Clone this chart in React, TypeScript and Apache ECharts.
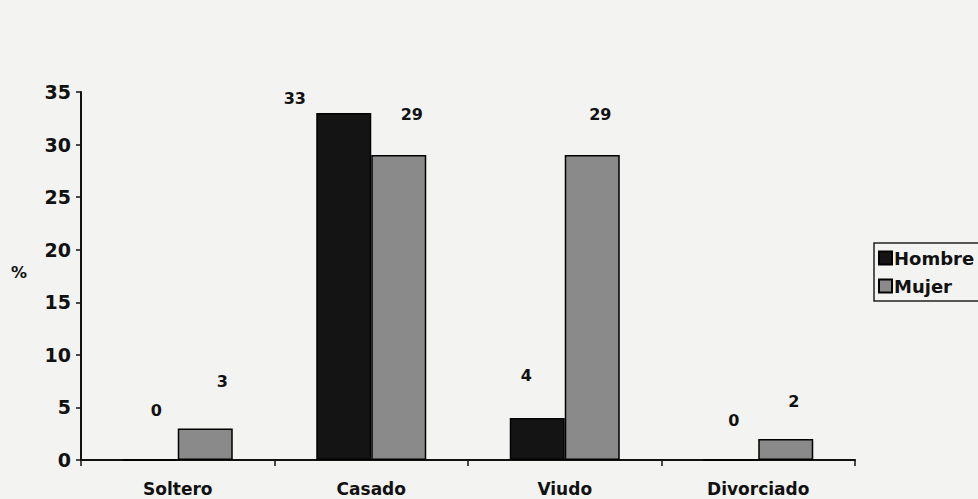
import React, { useEffect, useRef } from "react";
import * as echarts from "echarts";

const categories = ["Soltero", "Casado", "Viudo", "Divorciado"];
const hombre = [0, 33, 4, 0];
const mujer = [3, 29, 29, 2];
const yTicks = { min: 0, max: 35, interval: 5 };

// label placement tweaks (style only)
const hombreLabelOffsets = [[6, -36], [-49, -2], [-11, -29], [3, -26]];
const mujerLabelOffsets = [[17, -34], [13, -28], [8, -28], [8, -24]];

const FONT = "'DejaVu Sans', Verdana, sans-serif";

export default function App() {
  const ref = useRef<HTMLDivElement>(null);
  useEffect(() => {
    if (!ref.current) return;
    const chart = echarts.init(ref.current, undefined, { renderer: "svg" });
    const labelBase = {
      show: true,
      position: "top",
      distance: 5,
      fontFamily: FONT,
      fontWeight: "bold",
      fontSize: 16,
      color: "#111",
    };
    chart.setOption({
      animation: false,
      backgroundColor: "#f3f3f1",
      textStyle: { fontFamily: FONT },
      grid: { left: 81, right: 123, top: 92, bottom: 39, containLabel: false },
      legend: {
        orient: "vertical",
        left: 874,
        top: 243,
        icon: "rect",
        itemWidth: 13,
        itemHeight: 13,
        itemGap: 10,
        padding: [6, 60, 6, 4],
        borderColor: "#222",
        borderWidth: 1.5,
        textStyle: { fontFamily: FONT, fontWeight: "bold", fontSize: 18, color: "#111", padding: [0, 0, 0, -3] },
        data: ["Hombre", "Mujer"],
      },
      graphic: [
        {
          type: "text",
          left: 11,
          top: 264,
          style: { text: "%", fontFamily: FONT, fontWeight: "bold", fontSize: 16, fill: "#111" },
        },
      ],
      xAxis: {
        type: "category",
        data: categories,
        axisLine: { lineStyle: { color: "#111", width: 2 } },
        axisTick: { show: true, length: 6, lineStyle: { color: "#111", width: 1.5 } },
        axisLabel: { margin: 20, fontFamily: FONT, fontWeight: "bold", fontSize: 17, color: "#111" },
      },
      yAxis: {
        type: "value",
        min: yTicks.min,
        max: yTicks.max,
        interval: yTicks.interval,
        splitLine: { show: false },
        axisLine: { show: true, lineStyle: { color: "#111", width: 2 } },
        axisTick: { show: true, length: 5, lineStyle: { color: "#111", width: 1.5 } },
        axisLabel: { margin: 10, fontFamily: FONT, fontWeight: "bold", fontSize: 19, color: "#111" },
      },
      series: [
        {
          name: "Hombre",
          type: "bar",
          barWidth: 55,
          barGap: "0%",
          itemStyle: { color: "#141414", borderColor: "#000", borderWidth: 1.5 },
          data: hombre.map((v, i) => ({
            value: v,
            label: { ...labelBase, offset: hombreLabelOffsets[i] },
          })),
        },
        {
          name: "Mujer",
          type: "bar",
          barWidth: 55,
          barGap: "0%",
          itemStyle: { color: "#8a8a8a", borderColor: "#000", borderWidth: 1.5 },
          data: mujer.map((v, i) => ({
            value: v,
            label: { ...labelBase, offset: mujerLabelOffsets[i] },
          })),
        },
      ],
    });
    return () => chart.dispose();
  }, []);
  return <div ref={ref} style={{ width: 978, height: 499, position: "absolute", left: 0, top: 0 }} />;
}
